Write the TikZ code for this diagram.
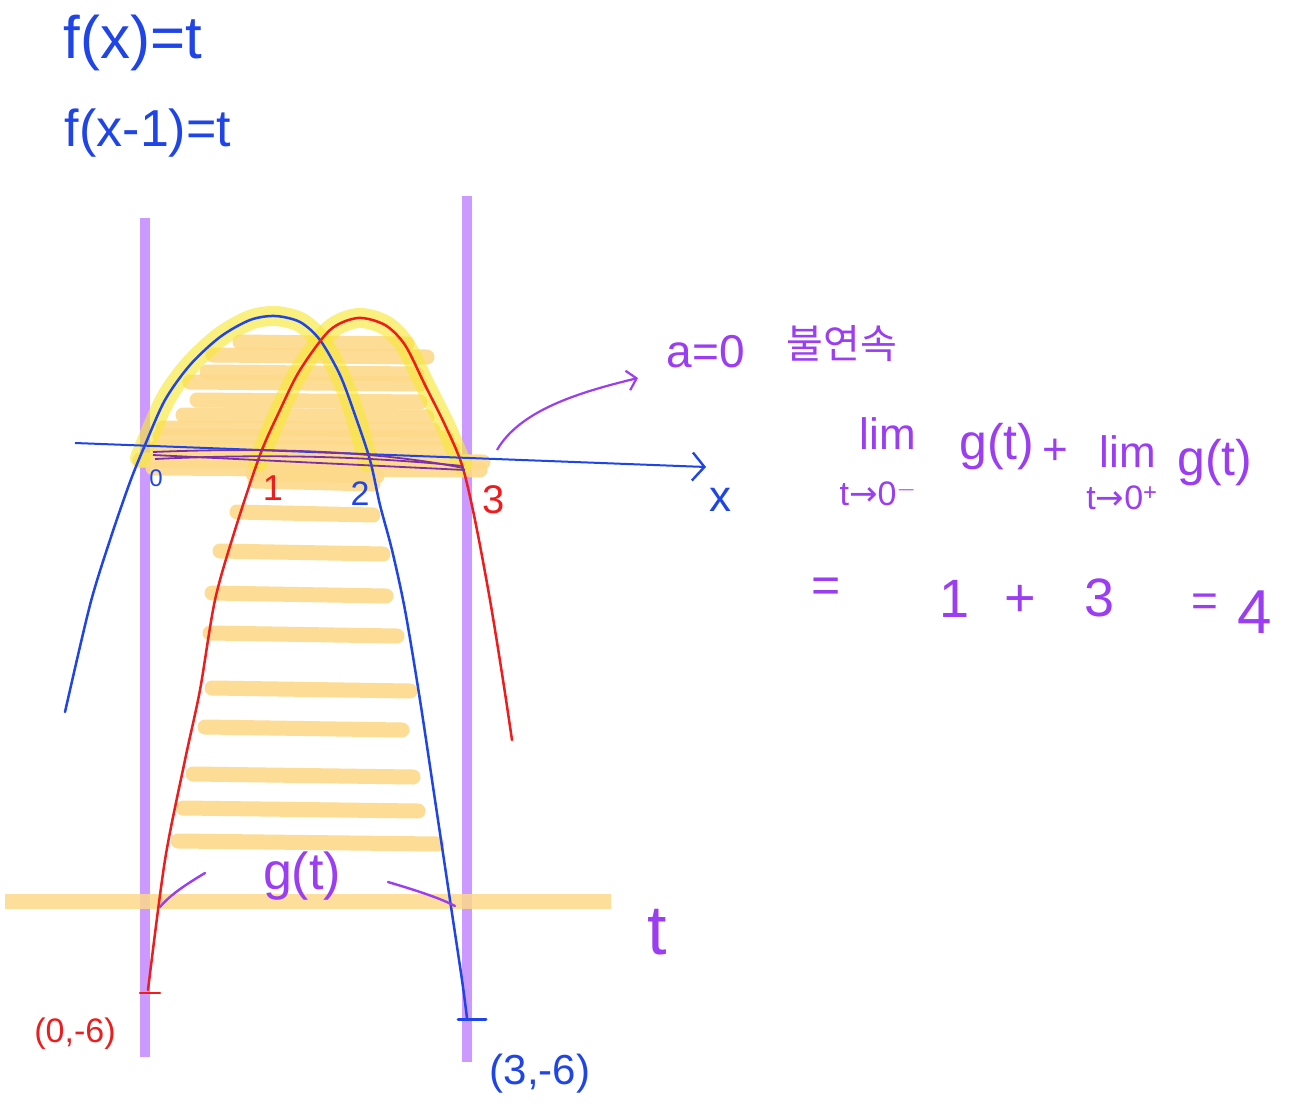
\documentclass[tikz,border=0pt]{standalone}
\usepackage{fontspec}
\setmainfont{Liberation Sans}
\newfontfamily\krfont{Noto Sans CJK KR}
\newfontfamily\djv{DejaVu Sans}
\usetikzlibrary{arrows.meta}
\definecolor{barpurple}{HTML}{CC99FF}
\definecolor{hatchy}{HTML}{FDD98A}
\definecolor{hly}{HTML}{F7E83C}
\definecolor{cblue}{HTML}{1F45E8}
\definecolor{cred}{HTML}{EE1C1C}
\definecolor{tpurple}{HTML}{9B3DF2}
\definecolor{dpurple}{HTML}{7E2FA8}
\tikzset{
  bar/.style={draw=barpurple, line width=10pt},
  hatch/.style={draw=hatchy, line width=15pt, line cap=round, draw opacity=0.9},
  hl/.style={draw=hly, line width=20pt, line cap=round, draw opacity=0.65},
  band/.style={draw=hatchy, line width=15pt, draw opacity=0.85},
  bcurve/.style={draw=cblue, line width=2.5pt, line cap=round},
  rcurve/.style={draw=cred, line width=2.5pt, line cap=round},
  pline/.style={draw=tpurple, line width=2.4pt, line cap=round},
  btxt/.style={text=cblue, inner sep=0pt},
  rtxt/.style={text=cred, inner sep=0pt},
  ptxt/.style={text=tpurple, inner sep=0pt},
}
\newcommand{\tol}[1]{t{\djv →}0\textsuperscript{#1}}
\begin{document}
\begin{tikzpicture}[x=1pt,y=-1pt]
\useasboundingbox[fill=white] (0,0) rectangle (1294,1111);

% purple vertical bars
\draw[bar] (145,218) -- (145,1057);
\draw[bar] (467,196) -- (467,1062);

% yellow hatching, upper region
\foreach \y/\a/\b in {342/240/407, 355/213/427, 372/207/417, 382/190/420, 400/197/420, 415/183/427, 428/163/433, 436/160/447, 447/157/453, 460/140/483, 468/153/480, 474/253/377}
  \draw[hatch] (\a,\y) -- (\b,\y+2);
% yellow hatching, lower region
\foreach \y/\a/\b in {481/255/373, 512/237/373, 551/220/383, 593/212/386, 633/210/397, 688/212/410, 727/205/402, 774/193/413, 808/183/418, 841/178/437}
  \draw[hatch] (\a,\y) -- (\b,\y+3);

% yellow highlights along arcs
\draw[hl] plot[smooth] coordinates {(140,458) (165,400) (190,365) (220,337) (250,320) (275,316) (300,322) (320,340) (340,375) (355,415) (368,462)};
\draw[hl] plot[smooth] coordinates {(258,462) (280,410) (300,370) (330,330) (358,318) (385,325) (405,345) (425,385) (445,425) (462,465)};

% yellow band (t-axis)
\draw[band] (5,901) -- (611,901);

% curves
\draw[bcurve] plot[smooth] coordinates {(65,712) (90,605) (110,540) (130,482) (145,445) (165,400) (190,365) (220,337) (250,320) (275,316) (300,322) (320,340) (340,375) (355,415) (370,460) (380,505) (392,550) (405,610) (420,700) (435,800) (450,900) (462,980) (467,1018)};
\draw[rcurve] plot[smooth] coordinates {(148,990) (165,860) (185,760) (200,690) (215,600) (235,530) (260,455) (280,410) (300,370) (330,330) (358,318) (385,325) (405,345) (425,385) (445,425) (462,465) (475,520) (490,600) (503,680) (512,740)};
% end ticks
\draw[rcurve] (140,993) -- (160,993);
\draw[bcurve, line width=3pt] (458,1019) -- (486,1019);

% x-axis
\coordinate (axL) at (75,443);
\coordinate (axR) at (706,467);
\draw[draw=cblue, line width=2pt, -{Straight Barb[length=12pt,width=28pt,line width=2.4pt]}] (axL) -- (axR);

% purple scribble along axis
\draw[draw=dpurple, line width=1.8pt] (153,452) .. controls (300,446) and (400,455) .. (463,468);
\draw[draw=dpurple, line width=1.8pt] (153,455) -- (465,470);
\draw[draw=dpurple, line width=1.8pt] (155,459) .. controls (300,452) and (400,460) .. (463,466);

% labels on axis
\node[btxt, font=\fontsize{24}{28}\selectfont] (n0) at (156,478) {0};
\node[rtxt, font=\fontsize{36}{40}\selectfont] (n1) at (273,488) {1};
\node[btxt, font=\fontsize{34}{38}\selectfont] (n2) at (360,494) {2};
\node[rtxt, font=\fontsize{40}{44}\selectfont] (n3) at (494,500) {3};
\node[btxt, font=\fontsize{44}{48}\selectfont] (nx) at (720,500) {x};

% equations top-left
\node[btxt, font=\fontsize{60}{66}\selectfont] (fx) at (133,43) {f(x)=t};
\node[btxt, font=\fontsize{52}{58}\selectfont] (fx1) at (148,133) {f(x-1)=t};

% a=0 annotation with arrow
\node[ptxt, font=\fontsize{46}{52}\selectfont] (a0) at (706,352) {a=0};
\node[ptxt, font=\krfont\fontsize{40}{46}\selectfont] (disc) at (842,344) {불연속};
\coordinate (arS) at (497,450);
\draw[draw=tpurple, line width=2.2pt, -{Straight Barb[length=9pt,width=20pt,line width=2.2pt]}] (arS) .. controls (520,410) and (580,392) .. (638,378);

% limit expression
\node[ptxt, font=\fontsize{44}{48}\selectfont] (lim1) at (888,434) {lim};
\node[ptxt, font=\fontsize{34}{38}\selectfont] (sub1) at (878,494) {\tol{$-$}};
\node[ptxt, font=\fontsize{50}{56}\selectfont] (g1) at (997,447) {g(t)};
\node[ptxt, font=\fontsize{44}{48}\selectfont] (pl1) at (1055,452) {+};
\node[ptxt, font=\fontsize{44}{48}\selectfont] (lim2) at (1128,452) {lim};
\node[ptxt, font=\fontsize{34}{38}\selectfont] (sub2) at (1122,498) {\tol{+}};
\node[ptxt, font=\fontsize{50}{56}\selectfont] (g2) at (1215,463) {g(t)};

% = 1 + 3 = 4
\node[ptxt, font=\fontsize{50}{56}\selectfont] (eq1) at (826,590) {=};
\node[ptxt, font=\fontsize{54}{60}\selectfont] (one) at (955,599) {1};
\node[ptxt, font=\fontsize{54}{60}\selectfont] (plus) at (1020,601) {+};
\node[ptxt, font=\fontsize{54}{60}\selectfont] (three) at (1100,598) {3};
\node[ptxt, font=\fontsize{46}{52}\selectfont] (eq2) at (1205,605) {=};
\node[ptxt, font=\fontsize{62}{68}\selectfont] (four) at (1255,612) {4};

% g(t) label and pointers
\node[ptxt, font=\fontsize{52}{58}\selectfont] (gt) at (302,876) {g(t)};
\draw[pline] (205,873) .. controls (185,885) and (170,895) .. (160,907);
\draw[pline] (388,882) .. controls (415,890) and (440,898) .. (455,906);
\node[ptxt, font=\fontsize{70}{76}\selectfont] (tl) at (657,932) {t};

% end-point coordinates
\node[rtxt, font=\fontsize{34}{38}\selectfont] (p06) at (75,1034) {(0,-6)};
\node[btxt, font=\fontsize{42}{46}\selectfont] (p36) at (540,1074) {(3,-6)};
\end{tikzpicture}
\end{document}
